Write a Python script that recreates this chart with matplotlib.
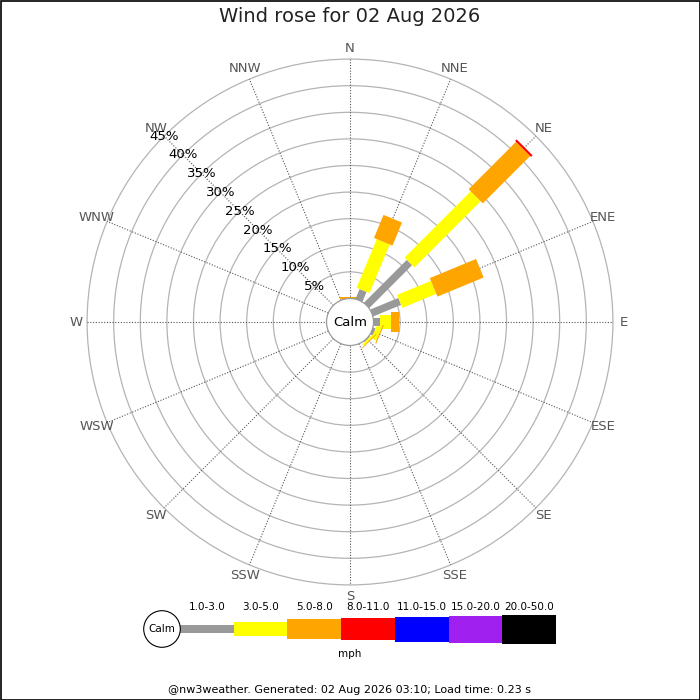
import numpy as np
import matplotlib
matplotlib.use('Agg')
from matplotlib import pyplot as plt
from matplotlib.patches import Polygon, Circle, Rectangle

title = 'Wind rose for 02 Aug 2026'
footer = '@nw3weather. Generated: 02 Aug 2026 03:10; Load time: 0.23 s'
dirs = ['N', 'NNE', 'NE', 'ENE', 'E', 'ESE', 'SE', 'SSE',
        'S', 'SSW', 'SW', 'WSW', 'W', 'WNW', 'NW', 'NNW']
speed_bins = ['1.0-3.0', '3.0-5.0', '5.0-8.0', '8.0-11.0', '11.0-15.0', '15.0-20.0', '20.0-50.0']
bin_colors = ['#999999', '#ffff00', '#ffa500', '#ff0000', '#0000ff', '#a020f0', '#000000']
ring_pcts = [5, 10, 15, 20, 25, 30, 35, 40, 45]

# percent of time per direction, one list per speed bin
pct_1_3 = [0, 2.0, 11.4, 5.7, 1.2, 0.5, 0.2, 0, 0, 0, 0, 0, 0, 0, 0, 0]
pct_3_5 = [0, 9.9, 17.6, 6.9, 2.0, 1.0, 0.4, 0, 0, 0, 0, 0, 0, 0, 0, 0]
pct_5_8 = [0.3, 4.7, 12.6, 9.4, 1.65, 0.2, 0.15, 0, 0, 0, 0, 0, 0, 0, 0, 0]
pct_8_11 = [0, 0, 0.4, 0, 0, 0, 0, 0, 0, 0, 0, 0, 0, 0, 0, 0]
pct_11_15 = [0] * 16
pct_15_20 = [0] * 16
pct_20_50 = [0] * 16
all_bins = [pct_1_3, pct_3_5, pct_5_8, pct_8_11, pct_11_15, pct_15_20, pct_20_50]

# geometry (pixels)
cx, cy = 350, 322
r0 = 23.5          # calm circle / 0 %
k = 5.32           # px per percent
bar_w = [7.5, 14, 20, 22.5, 25, 27, 29]


def rad(p):
    return r0 + p * k


def unit(b):
    a = np.deg2rad(b)
    return np.array([np.sin(a), -np.cos(a)]), np.array([np.cos(a), np.sin(a)])


fig = plt.figure(figsize=(7, 7), dpi=100)
ax = fig.add_axes([0, 0, 1, 1])
ax.set_xlim(0, 700)
ax.set_ylim(700, 0)
ax.set_aspect('equal')
ax.axis('off')

# rings
for p in ring_pcts:
    ax.add_patch(Circle((cx, cy), rad(p), fill=False, ec='#b4b4b4', lw=0.9, zorder=1))

# spokes + direction labels
for i, d in enumerate(dirs):
    b = i * 22.5
    u, v = unit(b)
    p1 = np.array([cx, cy]) + u * r0
    p2 = np.array([cx, cy]) + u * rad(ring_pcts[-1])
    ax.plot([p1[0], p2[0]], [p1[1], p2[1]], color='#555555', lw=0.8,
            ls=(0, (1, 1.5)), zorder=2)
    t = np.array([cx, cy]) + u * 274
    ax.text(t[0], t[1], d, ha='center', va='center', fontsize=9.5, color='#555555', zorder=5)

# bars
for i in range(len(dirs)):
    u, v = unit(i * 22.5)
    cum = 0
    for j, vals in enumerate(all_bins):
        val = vals[i]
        if val <= 0:
            continue
        a, bb = rad(cum), rad(cum + val)
        hw = bar_w[j] / 2
        c = np.array([cx, cy])
        pts = [c + u * a - v * hw, c + u * bb - v * hw, c + u * bb + v * hw, c + u * a + v * hw]
        ax.add_patch(Polygon(pts, closed=True, fc=bin_colors[j], ec='none', zorder=3))
        cum += val

# calm circle
ax.add_patch(Circle((cx, cy), r0, fc='white', ec='#999999', lw=0.9, zorder=4))
ax.text(cx, cy, 'Calm', ha='center', va='center', fontsize=9.5, color='black', zorder=5)

# percent labels along NW
u, v = unit(315)
for p in ring_pcts:
    t = np.array([cx, cy]) + u * rad(p)
    ax.text(t[0], t[1], f'{p}%', ha='center', va='center', fontsize=9.5, color='black', zorder=5)

# title
ax.text(350, 17, title, ha='center', va='center', fontsize=14, color='#222222')

# legend
lx0, lx1, ly = 180, 556, 629
seg = (lx1 - lx0) / len(speed_bins)
ax.add_patch(Circle((162, ly), 18.3, fc='white', ec='black', lw=0.8, zorder=4))
ax.text(162, ly + 0.5, 'Calm', ha='center', va='center', fontsize=7.5, zorder=5)
for j, lab in enumerate(speed_bins):
    x = lx0 + j * seg
    ax.add_patch(Rectangle((x, ly - bar_w[j] / 2 * 1.0), seg, bar_w[j], fc=bin_colors[j], ec='none', zorder=3))
    ax.text(x + seg / 2, 607, lab, ha='center', va='center', fontsize=7.5, color='black')
ax.text(350, 654, 'mph', ha='center', va='center', fontsize=7.5, color='black')

# footer
ax.text(350, 690, footer, ha='center', va='center', fontsize=8, color='black')

# border
ax.add_patch(Rectangle((0.5, 0.5), 699, 699, fill=False, ec='black', lw=1.2, zorder=6))

fig.savefig('out.png', dpi=100)
